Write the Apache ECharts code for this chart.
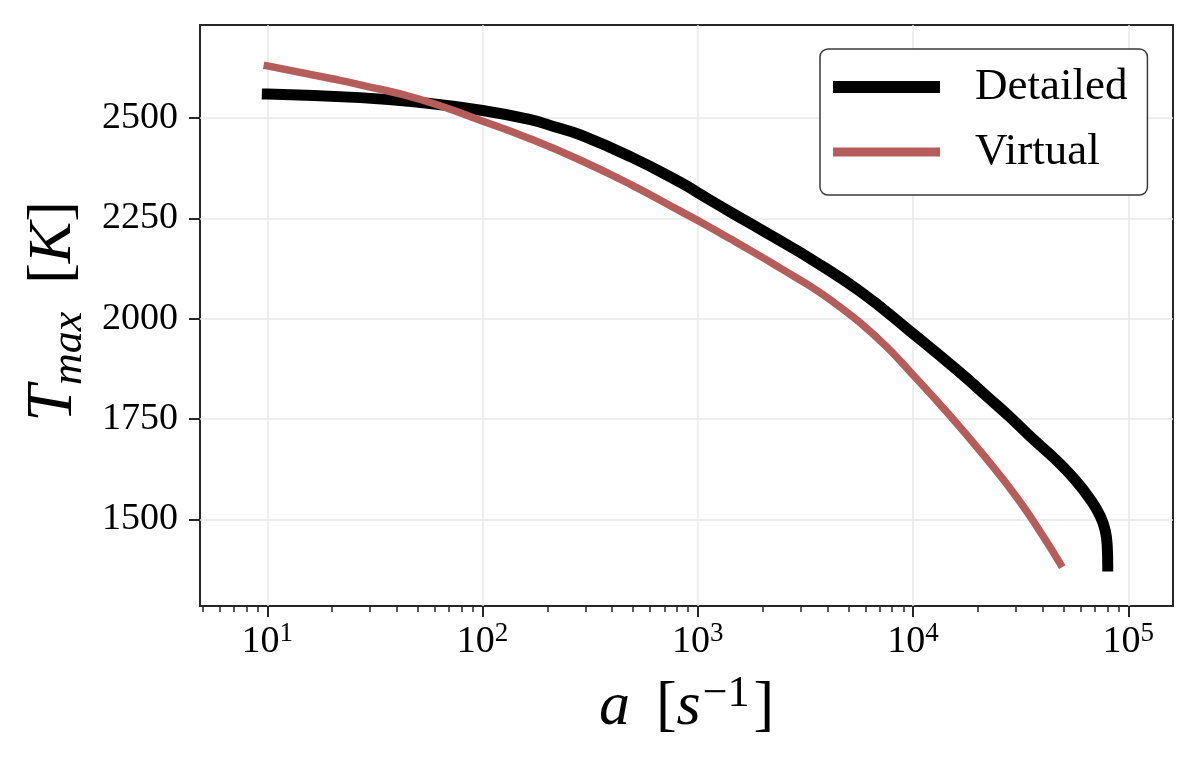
<!DOCTYPE html>
<html>
<head>
<meta charset="utf-8">
<script src="https://cdn.jsdelivr.net/npm/echarts@6/dist/echarts.min.js"></script>
<style>
html,body{margin:0;padding:0;background:#fff;}
#chart{width:1200px;height:771px;}
</style>
</head>
<body>
<div id="chart"></div>
<script>
// ---- data ----
const detailedA = [10, 27, 51, 100, 167, 220, 285, 486, 830, 1000, 1416, 1950, 2415, 3327, 5674, 9683, 16520, 22280, 28180, 36060, 45750, 56660, 66520, 74020, 78090, 79780, 80210];
const detailedT = [2560, 2551, 2539, 2519, 2496, 2477, 2458, 2404, 2340, 2314, 2266, 2223, 2194, 2150, 2068, 1969, 1866, 1804, 1755, 1700, 1650, 1598, 1550, 1508, 1472, 1432, 1384];
const virtualA = [10, 20, 27, 51, 98, 167, 285, 486, 830, 1004, 1416, 1950, 2415, 3327, 4300, 5674, 7500, 9683, 14860, 21150, 30400, 40180, 48300];
const virtualT = [2630, 2598, 2583, 2547, 2494, 2448, 2395, 2335, 2268, 2244, 2199, 2156, 2126, 2081, 2040, 1990, 1931, 1868, 1758, 1661, 1554, 1458, 1389];
const xMajorTicks = [10, 100, 1000, 10000, 100000];
const xMinorTicks = [5, 6, 7, 8, 9, 20, 30, 40, 50, 60, 70, 80, 90, 200, 300, 400, 500, 600, 700, 800, 900,
  2000, 3000, 4000, 5000, 6000, 7000, 8000, 9000, 20000, 30000, 40000, 50000, 60000, 70000, 80000, 90000];
const yTicks = [1500, 1750, 2000, 2250, 2500];
const seriesNames = ['Detailed', 'Virtual'];

const FONT = "'Liberation Serif', 'DejaVu Serif', serif";
const AXIS_COLOR = '#262626';
const GRID_COLOR = '#e8e8e8';
const X_MIN = 4.867, X_MAX = 161200;

function zip(a, b) { return a.map((v, i) => [v, b[i]]); }

const chart = echarts.init(document.getElementById('chart'), null, {renderer: 'canvas'});
const option = {
  animation: false,
  backgroundColor: '#fff',
  grid: {left: 200, right: 27, top: 25, bottom: 165, show: true,
    borderColor: AXIS_COLOR, borderWidth: 2, backgroundColor: 'transparent'},
  legend: {
    orient: 'vertical', left: 820, top: 49,
    backgroundColor: '#fff', borderColor: '#3a3a3a', borderWidth: 1.5, borderRadius: 8,
    padding: [15, 20, 20, 13], itemGap: 19, itemWidth: 107, itemHeight: 12,
    symbolKeepAspect: false,
    textStyle: {fontFamily: FONT, fontSize: 45, color: '#000', lineHeight: 46, padding: [0, 0, 0, 30]},
    data: [
      {name: seriesNames[0], icon: 'rect'},
      {name: seriesNames[1], icon: 'path://M0,0L0.01,0ZM0,1.5L100,1.5L100,10.5L0,10.5ZM0,12L0.01,12Z'}
    ]
  },
  xAxis: [{
    type: 'log', logBase: 10, min: X_MIN, max: X_MAX,
    axisLine: {show: false},
    axisTick: {show: true, customValues: xMajorTicks, length: 11, lineStyle: {color: AXIS_COLOR, width: 2}},
    axisLabel: {
      customValues: xMajorTicks, margin: 14,
      formatter: v => '{b|10}{s|' + Math.round(Math.log10(v)) + '}',
      rich: {
        b: {fontFamily: FONT, fontSize: 38, color: '#000', lineHeight: 44},
        s: {fontFamily: FONT, fontSize: 27, color: '#000', lineHeight: 28, verticalAlign: 'top'}
      }
    },
    splitLine: {show: true, lineStyle: {color: GRID_COLOR, width: 1.5}},
    name: '{i|a}{sp| }{n|[}{i|s}{sup|\u22121}{n|]}',
    nameLocation: 'middle', nameGap: 66,
    nameTextStyle: {
      rich: {
        i: {fontFamily: FONT, fontStyle: 'italic', fontSize: 62, color: '#000', lineHeight: 72},
        sp: {fontFamily: FONT, fontSize: 62, color: '#000', lineHeight: 72, width: 26},
        n: {fontFamily: FONT, fontSize: 62, color: '#000', lineHeight: 72},
        sup: {fontFamily: FONT, fontSize: 44, color: '#000', lineHeight: 44, verticalAlign: 'top', padding: [0, 4, 0, 2]}
      }
    }
  }, {
    type: 'log', logBase: 10, min: X_MIN, max: X_MAX, position: 'bottom',
    axisLine: {show: false},
    axisTick: {show: true, customValues: xMinorTicks, length: 6, lineStyle: {color: AXIS_COLOR, width: 1.5}},
    axisLabel: {show: false},
    splitLine: {show: false}
  }],
  yAxis: {
    type: 'value', min: 1284, max: 2732,
    axisLine: {show: false},
    axisTick: {show: true, customValues: yTicks, length: 11, lineStyle: {color: AXIS_COLOR, width: 2}},
    axisLabel: {customValues: yTicks, margin: 22, fontFamily: FONT, fontSize: 38, color: '#000',
      formatter: v => String(v)},
    splitLine: {show: true, lineStyle: {color: GRID_COLOR, width: 1.5}},
    name: '{ti|T}{sub|max}{sp| }{n|[}{ki|K}{n|]}',
    nameLocation: 'middle', nameRotate: 90, nameGap: 108,
    nameTextStyle: {
      padding: [0, 0, 0, 8],
      rich: {
        ti: {fontFamily: FONT, fontStyle: 'italic', fontSize: 66, color: '#000', lineHeight: 74},
        ki: {fontFamily: FONT, fontStyle: 'italic', fontSize: 62, color: '#000', lineHeight: 74},
        n: {fontFamily: FONT, fontSize: 62, color: '#000', lineHeight: 74},
        sp: {fontFamily: FONT, fontSize: 62, color: '#000', lineHeight: 74, width: 28},
        sub: {fontFamily: FONT, fontStyle: 'italic', fontSize: 44, color: '#000', lineHeight: 46, verticalAlign: 'bottom'}
      }
    }
  },
  series: [{
    name: seriesNames[0], type: 'line', xAxisIndex: 0, data: zip(detailedA, detailedT),
    showSymbol: false, symbol: 'none', smooth: 0.5,
    lineStyle: {color: '#000', width: 11, cap: 'square', join: 'round'}, itemStyle: {color: '#000'}, z: 3
  }, {
    name: seriesNames[1], type: 'line', xAxisIndex: 0, data: zip(virtualA, virtualT),
    showSymbol: false, symbol: 'none', smooth: 0.5,
    lineStyle: {color: '#b45d5b', width: 7.5, cap: 'square', join: 'round'}, itemStyle: {color: '#b45d5b'}, z: 4
  }]
};
chart.setOption(option);
</script>
</body>
</html>
